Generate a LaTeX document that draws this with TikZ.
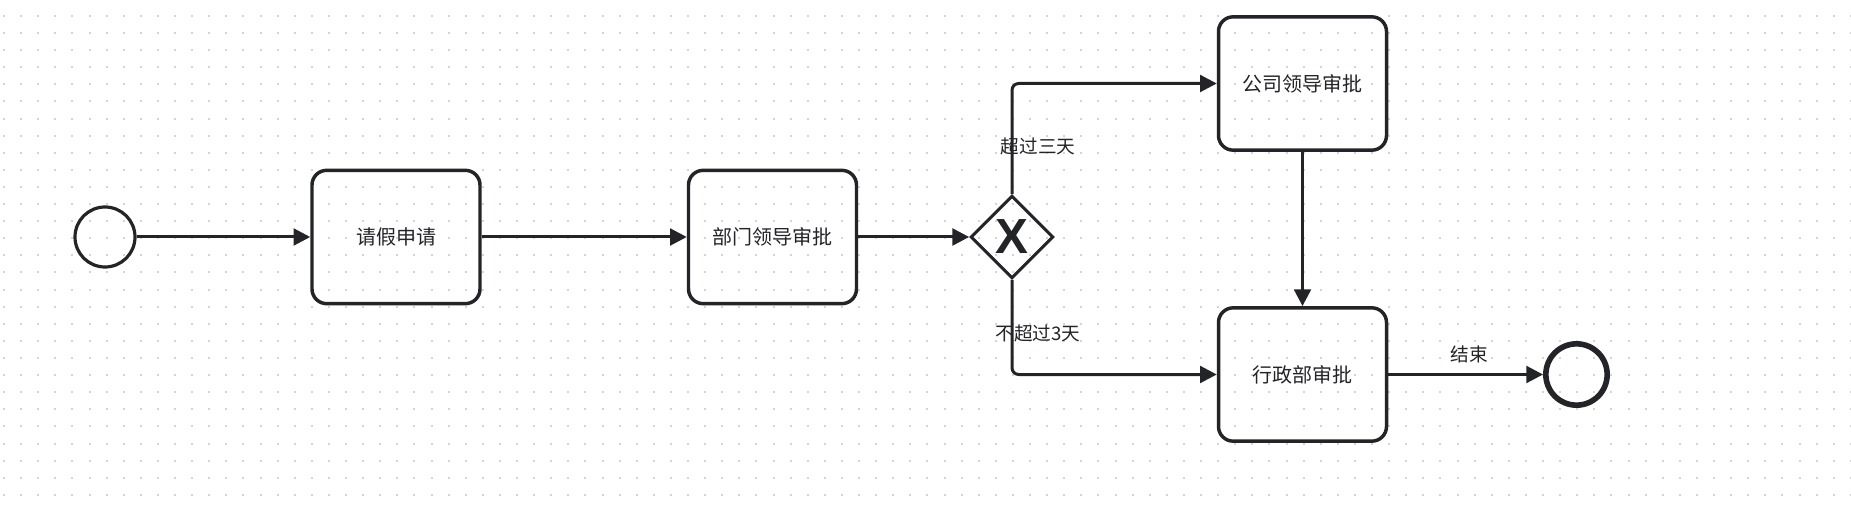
\documentclass[tikz,border=0pt]{standalone}
\usepackage{fontspec}
\newfontfamily\cjk{Noto Sans CJK SC}
\newfontfamily\xfont{Liberation Sans}
\usetikzlibrary{arrows.meta,shapes.geometric}
\definecolor{ink}{RGB}{34,36,40}
\definecolor{dotgray}{RGB}{212,212,212}

\begin{document}
\begin{tikzpicture}[x=0.75pt,y=-0.75pt,color=ink,line width=2.25pt,>={Triangle[length=12.5pt,width=12.5pt]},
task/.style={rectangle, draw, line width=2.6pt, rounded corners=11pt, minimum width=126pt, minimum height=100pt, inner sep=0pt, font=\cjk\fontsize{15}{18}\selectfont},
startev/.style={circle, draw, line width=2.4pt, minimum size=45pt, inner sep=0pt},
endev/.style={circle, draw, line width=4.2pt, minimum size=46pt, inner sep=0pt},
gate/.style={diamond, draw, line width=2.3pt, minimum width=62pt, minimum height=62pt, inner sep=0pt, font=\xfont\bfseries\fontsize{37}{37}\selectfont},
lbl/.style={font=\cjk\fontsize{14}{16}\selectfont}]
\useasboundingbox[fill=white] (0,0) rectangle (1851,509);
% dotted grid
\foreach \i in {0,...,108}{\foreach \j in {0,...,28}{\fill[dotgray] ({3+17.1*\i},{15+17.1*\j}) rectangle +(2,2);}}

\draw (105,237) node[startev] (S) {};
\draw (396,237) node[task] (A) {请假申请};
\draw (772.5,237) node[task] (D) {部门领导审批};
\draw (1012,237) node[gate] (G) {X};
\draw (1302.5,83.5) node[task] (B) {公司领导审批};
\draw (1302.5,374.5) node[task] (R) {行政部审批};
\draw (1576.5,374.5) node[endev] (E) {};

\draw[->] (S)--(A);
\draw[->] (A)--(D);
\draw[->] (D)--(G);
\draw[->,rounded corners=5pt] (G.north) |- (B);
\draw[->,rounded corners=5pt] (G.south) |- (R);
\draw[->] (B)--(R);
\draw[->] (R)--(E);

\draw (1038,146) node[lbl] (L1) {超过三天};
\draw (1038,333) node[lbl] (L2) {不超过3天};
\draw (1469,354) node[lbl] (L3) {结束};
\end{tikzpicture}
\end{document}
